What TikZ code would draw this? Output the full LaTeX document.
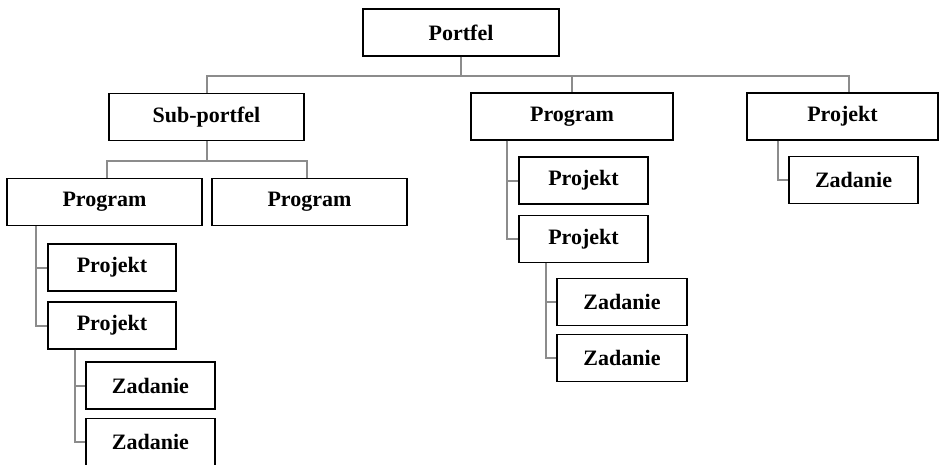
\documentclass[tikz,border=0pt]{standalone}
\usepackage{fontspec}
\setmainfont{Liberation Serif}
\begin{document}
\begin{tikzpicture}[x=1pt,y=-1pt,
  box/.style={draw=black,line width=1.3pt,fill=white,inner sep=0pt,
    minimum height=47pt,font=\fontsize{22}{24}\selectfont\bfseries},
  conn/.style={draw=black!45,line width=2pt}]
\useasboundingbox (0,0) rectangle (939,464);
% nodes
\node[box,minimum width=196pt] (port)  at (461,32.5)  {Portfel};
\node[box,minimum width=195pt] (sub)   at (206.5,117) {Sub-portfel};
\node[box,minimum width=195pt] (progA) at (104.5,202) {Program};
\node[box,minimum width=195pt] (progB) at (309.5,202) {Program};
\node[box,minimum width=128pt] (projA1) at (112,267.5) {Projekt};
\node[box,minimum width=128pt] (projA2) at (112,325.5) {Projekt};
\node[box,minimum width=129pt] (zadA1) at (150.5,385.5) {Zadanie};
\node[box,minimum width=129pt] (zadA2) at (150.5,442) {Zadanie};
\node[box,minimum width=202pt] (progM) at (572,116.5) {Program};
\node[box,minimum width=129pt] (projM1) at (583.5,180.5) {Projekt};
\node[box,minimum width=129pt] (projM2) at (583.5,239) {Projekt};
\node[box,minimum width=130pt] (zadM1) at (622,302) {Zadanie};
\node[box,minimum width=130pt] (zadM2) at (622,358) {Zadanie};
\node[box,minimum width=191pt] (projR) at (842.5,116.5) {Projekt};
\node[box,minimum width=129pt] (zadR)  at (853.5,180) {Zadanie};
% connectors
\coordinate (top) at (461,76);
\draw[conn] (port.south) -- (top);
\draw[conn] (top) -| (sub.north);
\draw[conn] (top) -| (progM.north);
\draw[conn] (top) -| ([xshift=6pt]projR.north);
\coordinate (subj) at (206.5,161);
\draw[conn] (sub.south) -- (subj);
\draw[conn] (subj) -| ([xshift=2.5pt]progA.north);
\draw[conn] (subj) -| ([xshift=-2.5pt]progB.north);
\draw[conn] ([xshift=30pt]progA.south west) |- (projA1.west);
\draw[conn] ([xshift=30pt]progA.south west) |- (projA2.west);
\draw[conn] ([xshift=28pt]projA2.south west) |- (zadA1.west);
\draw[conn] ([xshift=28pt]projA2.south west) |- (zadA2.west);
\draw[conn] ([xshift=37pt]progM.south west) |- (projM1.west);
\draw[conn] ([xshift=37pt]progM.south west) |- (projM2.west);
\draw[conn] ([xshift=28pt]projM2.south west) |- (zadM1.west);
\draw[conn] ([xshift=28pt]projM2.south west) |- (zadM2.west);
\draw[conn] ([xshift=32pt]projR.south west) |- (zadR.west);
\end{tikzpicture}
\end{document}
